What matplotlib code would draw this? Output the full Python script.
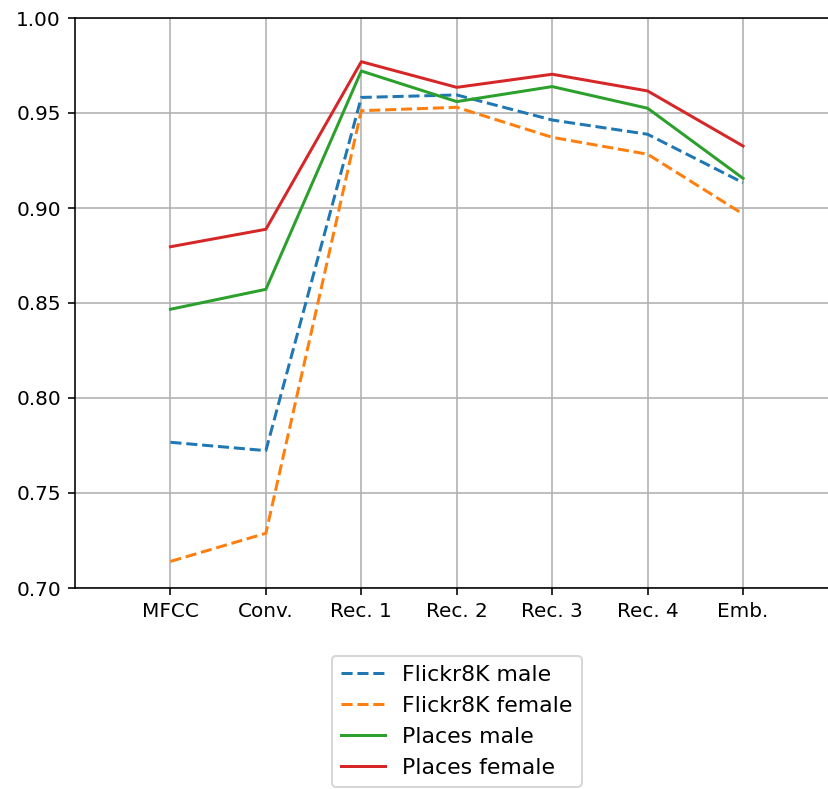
import numpy as np
import matplotlib
matplotlib.use("Agg")
import matplotlib.pyplot as plt

# layer names on the x axis
layers = ["MFCC", "Conv.", "Rec. 1", "Rec. 2", "Rec. 3", "Rec. 4", "Emb."]

# scores
flickr_male = [0.7767, 0.7723, 0.9582, 0.9595, 0.9463, 0.9388, 0.9133]
flickr_female = [0.7140, 0.7288, 0.9512, 0.9530, 0.9372, 0.9283, 0.8968]
places_male = [0.8467, 0.8572, 0.9721, 0.9560, 0.9639, 0.9525, 0.9156]
places_female = [0.8796, 0.8888, 0.9770, 0.9635, 0.9704, 0.9616, 0.9326]

dpi = 144
fig = plt.figure(figsize=(828 / dpi, 789 / dpi), dpi=dpi)
ax = fig.add_axes([75 / 828, 1 - 588 / 789, (838.5 - 75) / 828, 570 / 789])

x = np.arange(len(layers))
ax.plot(x, flickr_male, "--", color="C0", label="Flickr8K male")
ax.plot(x, flickr_female, "--", color="C1", label="Flickr8K female")
ax.plot(x, places_male, "-", color="C2", label="Places male")
ax.plot(x, places_female, "-", color="C3", label="Places female")

ax.set_xticks(x)
ax.set_xticklabels(layers)
ax.set_xlim(-1, 7)
ax.set_ylim(0.70, 1.00)
ax.set_yticks([0.70, 0.75, 0.80, 0.85, 0.90, 0.95, 1.00])
ax.grid(True)

ax.legend(loc="upper center", bbox_to_anchor=(0.5, -0.1), fontsize=11)

fig.savefig("out.png", dpi=dpi)
